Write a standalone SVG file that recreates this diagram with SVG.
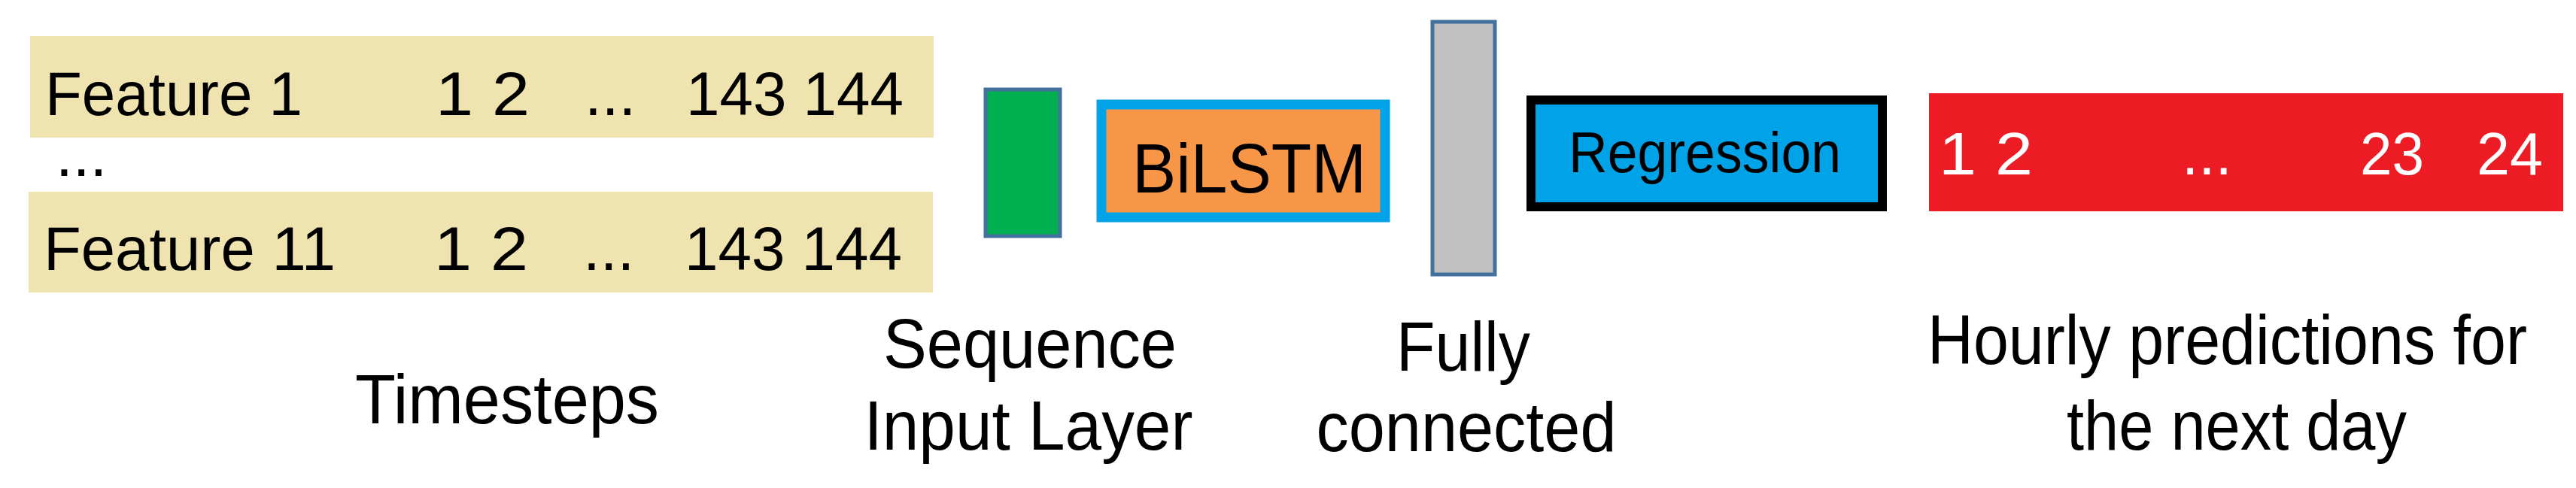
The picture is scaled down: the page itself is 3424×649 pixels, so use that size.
<svg xmlns="http://www.w3.org/2000/svg" width="3424" height="649" viewBox="0 0 3424 649">
<style>
.c{font-family:"Liberation Sans",Arial,sans-serif;fill:#000}
.k{font-size:82px}
.a{font-size:92px}
.w{fill:#fff;font-size:80px}
</style>
<rect width="3424" height="649" fill="#fff"/>
<g id="features">
<rect x="40" y="48" width="1201" height="135" fill="#EFE4B0"/>
<rect x="38" y="255" width="1202" height="134" fill="#EFE4B0"/>
<text class="c k" x="60" y="153" textLength="342" lengthAdjust="spacingAndGlyphs">Feature 1</text>
<text class="c k" x="579" y="153" textLength="125" lengthAdjust="spacingAndGlyphs">1 2</text>
<text class="c k" x="777" y="153">...</text>
<text class="c k" x="912" y="153" textLength="289" lengthAdjust="spacingAndGlyphs">143 144</text>
<text class="c k" x="74" y="234">...</text>
<text class="c k" x="58" y="359" textLength="388" lengthAdjust="spacingAndGlyphs">Feature 11</text>
<text class="c k" x="577" y="359" textLength="125" lengthAdjust="spacingAndGlyphs">1 2</text>
<text class="c k" x="775" y="359">...</text>
<text class="c k" x="910" y="359" textLength="289" lengthAdjust="spacingAndGlyphs">143 144</text>
<text class="c a" x="472" y="563" textLength="404" lengthAdjust="spacingAndGlyphs">Timesteps</text>
</g>
<g id="input">
<rect x="1310" y="119" width="99" height="195" fill="#00B050" stroke="#41719C" stroke-width="5"/>
<text class="c a" x="1369" y="489" text-anchor="middle" textLength="390" lengthAdjust="spacingAndGlyphs">Sequence</text>
<text class="c a" x="1367" y="598" text-anchor="middle" textLength="437" lengthAdjust="spacingAndGlyphs">Input Layer</text>
</g>
<g id="bilstm">
<rect x="1464" y="139" width="377" height="150" fill="#F79646" stroke="#00A2E8" stroke-width="13"/>
<text class="c a" x="1505" y="256" textLength="311" lengthAdjust="spacingAndGlyphs">BiLSTM</text>
</g>
<g id="fc">
<rect x="1904" y="29" width="83" height="336" fill="#C0C0C0" stroke="#41719C" stroke-width="5"/>
<text class="c a" x="1945" y="493" text-anchor="middle" textLength="178" lengthAdjust="spacingAndGlyphs">Fully</text>
<text class="c a" x="1949" y="600" text-anchor="middle" textLength="399" lengthAdjust="spacingAndGlyphs">connected</text>
</g>
<g id="regression">
<rect x="2035" y="133" width="467" height="142" fill="#00A2E8" stroke="#000" stroke-width="12"/>
<text class="c" style="font-size:76px" x="2085" y="229" textLength="362" lengthAdjust="spacingAndGlyphs">Regression</text>
</g>
<g id="output">
<rect x="2564" y="124" width="843" height="157" fill="#ED1C24"/>
<text class="c w" x="2577" y="232" textLength="125" lengthAdjust="spacingAndGlyphs">1 2</text>
<text class="c w" x="2900" y="232">...</text>
<text class="c w" x="3137" y="232" textLength="85" lengthAdjust="spacingAndGlyphs">23</text>
<text class="c w" x="3292" y="232" textLength="88" lengthAdjust="spacingAndGlyphs">24</text>
<text class="c a" x="2562" y="484" textLength="797" lengthAdjust="spacingAndGlyphs">Hourly predictions for</text>
<text class="c a" x="2747" y="598" textLength="452" lengthAdjust="spacingAndGlyphs">the next day</text>
</g>
<g id="connectors"/>
</svg>
